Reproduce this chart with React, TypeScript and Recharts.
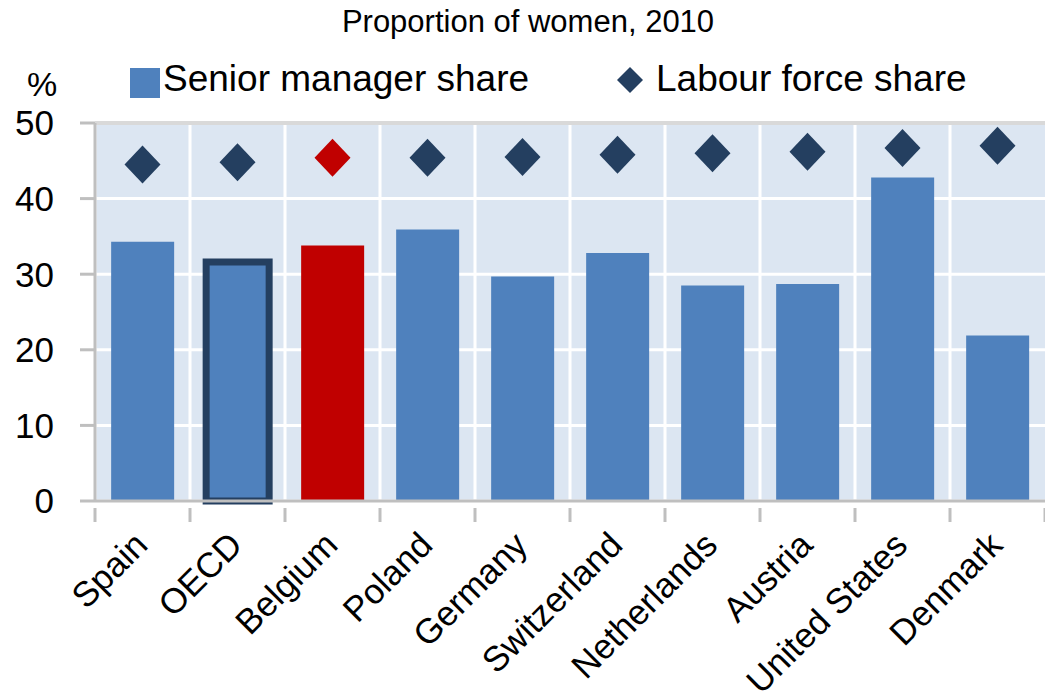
import {
  Bar,
  Cell,
  CartesianGrid,
  ComposedChart,
  Line,
  ReferenceLine,
  XAxis,
  YAxis,
} from "recharts";

const categories = [
  "Spain",
  "OECD",
  "Belgium",
  "Poland",
  "Germany",
  "Switzerland",
  "Netherlands",
  "Austria",
  "United States",
  "Denmark",
];
const seniorShare = [34.3, 31.6, 33.8, 35.9, 29.7, 32.8, 28.5, 28.7, 42.8, 21.9];
const labourShare = [44.5, 44.8, 45.4, 45.4, 45.5, 45.8, 46.0, 46.2, 46.7, 47.0];
const yTicks = [0, 10, 20, 30, 40, 50];

const BLUE = "#4F81BD";
const NAVY = "#243F60";
const RED = "#C00000";
const GREY = "#BFBFBF";
const FONT = "'Liberation Sans', Arial, sans-serif";

const data = categories.map((name, i) => ({
  name,
  senior: seniorShare[i],
  labour: labourShare[i],
}));

const barFill = (name: string) => (name === "Belgium" ? RED : BLUE);
const dotFill = (name: string) => (name === "Belgium" ? RED : NAVY);

function Diamond(props: any) {
  const { cx, cy, payload } = props;
  if (cx == null || cy == null) return null;
  return (
    <polygon
      key={payload.name}
      points={`${cx},${cy - 19} ${cx + 18},${cy} ${cx},${cy + 19} ${cx - 18},${cy}`}
      fill={dotFill(payload.name)}
    />
  );
}

function CountryTick(props: any) {
  const { x, y, payload, width, index } = props;
  const band = width / categories.length;
  const ax = x + 7;
  const ay = y + 38;
  return (
    <g>
      <line x1={x - band / 2} y1={y - 1} x2={x - band / 2} y2={y + 13} stroke={GREY} strokeWidth={3} />
      {index === categories.length - 1 && (
        <line x1={x + band / 2} y1={y - 1} x2={x + band / 2} y2={y + 13} stroke={GREY} strokeWidth={3} />
      )}
      <text
        x={ax}
        y={ay}
        textAnchor="end"
        fontSize={35}
        fontFamily={FONT}
        fill="#000"
        transform={`rotate(-45, ${ax}, ${ay})`}
      >
        {payload.value}
      </text>
    </g>
  );
}

export default function App() {
  return (
    <div style={{ position: "absolute", left: 0, top: 0, width: 1045, height: 698, background: "#fff" }}>
      <ComposedChart
        width={1045}
        height={698}
        data={data}
        margin={{ top: 123, right: 0, left: 0, bottom: 0 }}
        barCategoryGap="17%"
      >
        <CartesianGrid
          fill="#DCE6F2"
          stroke="#FFFFFF"
          strokeWidth={3}
          verticalCoordinatesGenerator={({ offset }: any) =>
            categories.map((_, i) => offset.left + (i * offset.width) / categories.length)
          }
        />
        <XAxis
          dataKey="name"
          height={197}
          interval={0}
          axisLine={{ stroke: GREY, strokeWidth: 3 }}
          tickLine={false}
          tick={<CountryTick />}
        />
        <YAxis
          width={95}
          domain={[0, 50]}
          ticks={yTicks}
          interval={0}
          axisLine={{ stroke: GREY, strokeWidth: 3 }}
          tickLine={{ stroke: GREY, strokeWidth: 3 }}
          tickSize={15}
          tickMargin={26}
          tick={{ fontSize: 35, fill: "#000", fontFamily: FONT }}
        />
        <ReferenceLine y={50} stroke="#D9D9D9" strokeWidth={4} />
        <Bar dataKey="senior" isAnimationActive={false}>
          {data.map((d) => (
            <Cell
              key={d.name}
              fill={barFill(d.name)}
              stroke={d.name === "OECD" ? NAVY : "none"}
              strokeWidth={d.name === "OECD" ? 7 : 0}
            />
          ))}
        </Bar>
        <Line
          dataKey="labour"
          stroke="none"
          dot={Diamond}
          activeDot={false}
          isAnimationActive={false}
        />
      </ComposedChart>
      <svg
        width={1045}
        height={120}
        style={{ position: "absolute", left: 0, top: 0, pointerEvents: "none" }}
        fontFamily={FONT}
      >
        <text x={528} y={32} textAnchor="middle" fontSize={31} fill="#000">
          Proportion of women, 2010
        </text>
        <text x={27} y={96} fontSize={34} fill="#000">
          %
        </text>
        <rect x={130} y={68} width={30} height={30} fill={BLUE} />
        <text x={163} y={91} fontSize={37} fill="#000">
          Senior manager share
        </text>
        <polygon points="630,67 643,80 630,93 617,80" fill={NAVY} />
        <text x={656} y={91} fontSize={37} fill="#000">
          Labour force share
        </text>
      </svg>
    </div>
  );
}
